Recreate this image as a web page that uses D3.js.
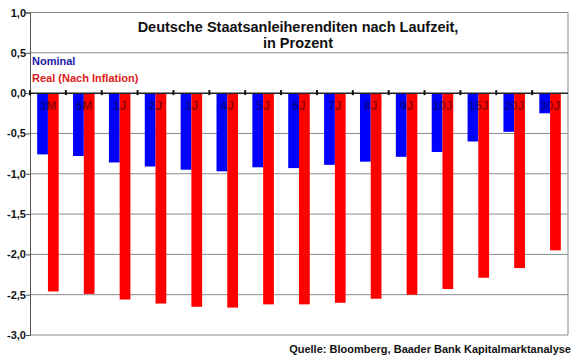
<!DOCTYPE html>
<html>
<head>
<meta charset="utf-8">
<script src="https://cdn.jsdelivr.net/npm/d3@7"></script>
<style>
  body { margin: 0; background: #fff; }
  svg text { font-family: Arial, "Liberation Sans", sans-serif; font-weight: bold; }
</style>
</head>
<body>
<svg id="chart" width="580" height="359"></svg>
<script>
// Data
const categories = ["3M", "6M", "1J", "2J", "3J", "4J", "5J", "6J", "7J", "8J", "9J", "10J", "15J", "20J", "30J"];
const nominal = [-0.76, -0.78, -0.86, -0.91, -0.95, -0.97, -0.92, -0.93, -0.89, -0.85, -0.79, -0.73, -0.60, -0.48, -0.25];
const real = [-2.46, -2.49, -2.56, -2.61, -2.65, -2.66, -2.62, -2.62, -2.60, -2.55, -2.50, -2.43, -2.29, -2.17, -1.95];
const yTicks = [1.0, 0.5, 0.0, -0.5, -1.0, -1.5, -2.0, -2.5, -3.0];
const seriesNames = ["Nominal", "Real (Nach Inflation)"];
const seriesColors = ["#0000ff", "#ff0000"];
const legendColors = ["#1a1aa8", "#e0201a"];

const svg = d3.select("#chart");
const margin = { left: 30, right: 12, top: 12.5, bottom: 24 };
const width = 580, height = 359;

const x = d3.scaleBand()
    .domain(categories)
    .range([margin.left, width - margin.right])
    .paddingInner(0.4)
    .paddingOuter(0.2);

const y = d3.scaleLinear()
    .domain([-3, 1])
    .range([height - margin.bottom, margin.top]);

const fmt = v => d3.format(".1f")(v).replace(".", ",").replace("−", "-");

// gridlines
svg.append("g")
    .selectAll("line")
    .data(yTicks.filter(d => d !== 0))
    .enter().append("line")
    .attr("x1", margin.left)
    .attr("x2", width - margin.right)
    .attr("y1", d => y(d))
    .attr("y2", d => y(d))
    .attr("stroke", "#8a8a8a")
    .attr("stroke-width", 1);

// right border
svg.append("line")
    .attr("x1", width - margin.right).attr("x2", width - margin.right)
    .attr("y1", y(1)).attr("y2", y(-3))
    .attr("stroke", "#8a8a8a");

// bars
const xs = d3.scaleBand()
    .domain([0, 1])
    .range([0, x.bandwidth()]);

const series = [nominal, real];
series.forEach((vals, si) => {
    svg.append("g")
        .selectAll("rect")
        .data(vals)
        .enter().append("rect")
        .attr("x", (d, i) => x(categories[i]) + xs(si))
        .attr("width", xs.bandwidth())
        .attr("y", y(0))
        .attr("height", d => y(d) - y(0))
        .attr("fill", seriesColors[si]);
});

// y axis
const yAxis = d3.axisLeft(y)
    .tickValues(yTicks)
    .tickSize(4)
    .tickFormat(fmt);

const ya = svg.append("g")
    .attr("transform", `translate(${margin.left},0)`)
    .call(yAxis);
ya.select(".domain").attr("stroke", "#555");
ya.selectAll(".tick line").attr("stroke", "#555");
ya.selectAll(".tick text")
    .attr("x", -4)
    .attr("fill", "#111")
    .style("font-size", "11px");

// zero line with category ticks
svg.append("line")
    .attr("x1", margin.left)
    .attr("x2", width - margin.right)
    .attr("y1", y(0))
    .attr("y2", y(0))
    .attr("stroke", "#222")
    .attr("stroke-width", 1.5);

const step = x.step();
svg.append("g")
    .selectAll("line")
    .data(categories)
    .enter().append("line")
    .attr("x1", d => x(d) - step * x.paddingInner() / 2)
    .attr("x2", d => x(d) - step * x.paddingInner() / 2)
    .attr("y1", y(0) - 3)
    .attr("y2", y(0) + 2)
    .attr("stroke", "#111")
    .attr("stroke-width", 2);

// category labels inside bars
svg.append("g")
    .selectAll("text")
    .data(categories)
    .enter().append("text")
    .attr("x", d => x(d) + x.bandwidth() / 2)
    .attr("y", y(0) + 17)
    .attr("text-anchor", "middle")
    .attr("fill", "#000")
    .attr("fill-opacity", 0.45)
    .style("font-size", "12px")
    .text(d => d);

// title
const title = svg.append("text")
    .attr("x", 298)
    .attr("y", 32)
    .attr("text-anchor", "middle")
    .attr("fill", "#111")
    .style("font-size", "14.5px");
title.append("tspan").attr("x", 298).text("Deutsche Staatsanleiherenditen nach Laufzeit,");
title.append("tspan").attr("x", 298).attr("dy", 16).text("in Prozent");

// legend
seriesNames.forEach((name, i) => {
    svg.append("text")
        .attr("x", 32)
        .attr("y", 65 + i * 17)
        .attr("fill", legendColors[i])
        .style("font-size", "11px")
        .text(name);
});

// source
svg.append("text")
    .attr("x", 571)
    .attr("y", 353)
    .attr("text-anchor", "end")
    .attr("fill", "#111")
    .style("font-size", "11px")
    .text("Quelle: Bloomberg, Baader Bank Kapitalmarktanalyse");
</script>
</body>
</html>
